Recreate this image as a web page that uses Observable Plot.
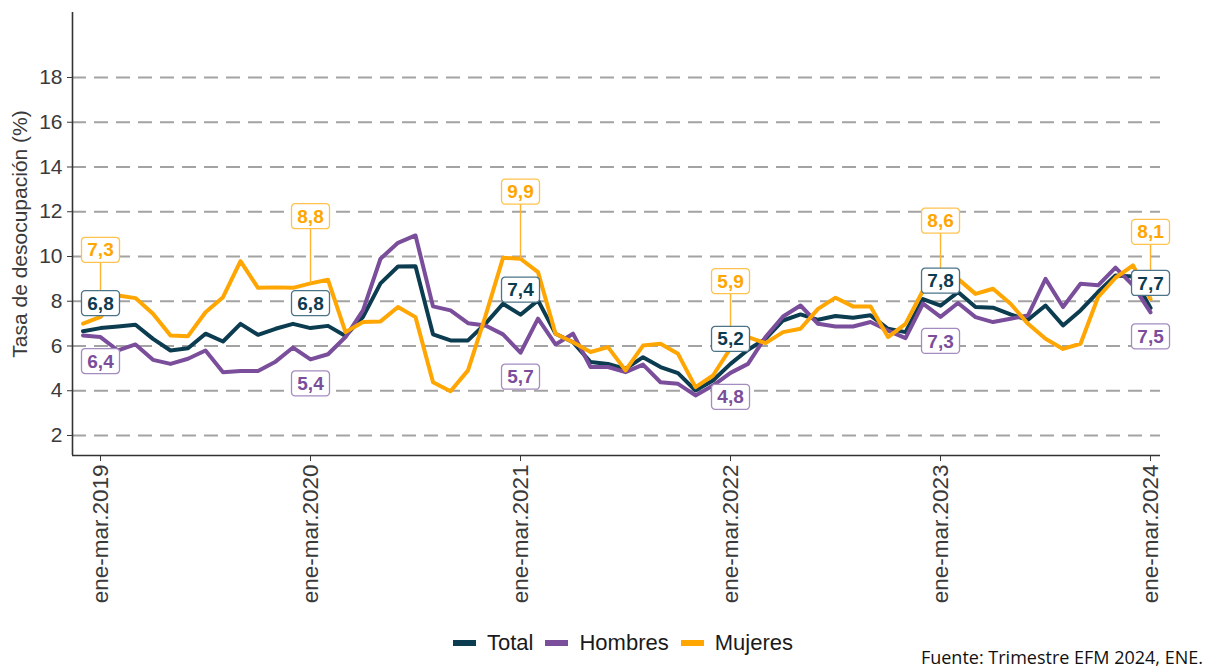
<!DOCTYPE html>
<html><head><meta charset="utf-8">
<script src="https://cdn.jsdelivr.net/npm/d3@7"></script>
<script src="https://cdn.jsdelivr.net/npm/@observablehq/plot@0.6"></script>
<style>
body{margin:0;background:#fff;font-family:"Liberation Sans",Arial,sans-serif;}
#wrap{position:relative;width:1206px;height:669px;overflow:hidden;}
#legend{position:absolute;top:630px;left:0;width:1206px;display:flex;justify-content:center;align-items:center;font-size:22px;color:#1a1a1a;padding-left:40px;box-sizing:border-box;}
#legend .it{display:flex;align-items:center;margin:0 6px;}
#legend .sw{display:inline-block;width:23px;height:6px;margin-right:11px;}
#caption{position:absolute;right:3px;top:645px;font-family:"Open Sans",sans-serif;font-size:18px;color:#111;}
</style></head>
<body><div id="wrap"><div id="chart"></div><div id="legend"></div><div id="caption">Fuente: Trimestre EFM 2024, ENE.</div></div>
<script>
// Series: index -1 = dic-feb 2019, 0 = ene-mar 2019 ... 60 = ene-mar 2024
const seriesNames = ["Total", "Hombres", "Mujeres"];
const seriesColors = ["#0c3c50", "#7a4e9b", "#ffa602"];
const boxStrokes = ["#4b7489", "#a58cc0", "#ffc24f"];

const total = [6.66, 6.8, 6.87, 6.95, 6.32, 5.80, 5.90, 6.55, 6.20, 6.99, 6.50, 6.77, 6.99, 6.8, 6.90, 6.45,
  7.3, 8.8, 9.55, 9.56, 6.52, 6.25, 6.25, 7.0, 7.89, 7.4, 8.04, 6.55, 6.17, 5.28, 5.20,
  4.98, 5.50, 5.06, 4.79, 4.01, 4.46, 5.2, 5.83, 6.32, 7.14, 7.41, 7.17, 7.34, 7.26, 7.37,
  6.77, 6.62, 8.1, 7.8, 8.41, 7.74, 7.71, 7.41, 7.17, 7.81, 6.92, 7.59, 8.41, 9.15, 9.11, 7.7];
const hombres = [6.47, 6.4, 5.80, 6.07, 5.38, 5.20, 5.43, 5.80, 4.83, 4.88, 4.88, 5.3, 5.93, 5.4, 5.63, 6.4,
  7.59, 9.90, 10.61, 10.94, 7.77, 7.59, 7.02, 6.92, 6.52, 5.7, 7.22, 6.07, 6.55, 5.06, 5.06,
  4.83, 5.17, 4.38, 4.31, 3.79, 4.23, 4.8, 5.20, 6.40, 7.32, 7.81, 6.99, 6.87, 6.87, 7.07,
  6.69, 6.35, 7.89, 7.3, 7.92, 7.29, 7.07, 7.22, 7.37, 9.0, 7.74, 8.78, 8.71, 9.50, 8.71, 7.5];
const mujeres = [7.0, 7.3, 8.26, 8.14, 7.44, 6.47, 6.44, 7.51, 8.18, 9.79, 8.60, 8.62, 8.60, 8.8, 8.96, 6.62,
  7.07, 7.10, 7.74, 7.29, 4.38, 3.98, 4.91, 7.35, 9.94, 9.9, 9.30, 6.55, 6.17, 5.73, 5.95,
  4.91, 6.02, 6.10, 5.65, 4.16, 4.68, 5.9, 6.40, 6.13, 6.62, 6.77, 7.66, 8.16, 7.77, 7.77,
  6.40, 6.99, 8.48, 8.6, 9.0, 8.33, 8.56, 7.89, 6.99, 6.32, 5.87, 6.10, 8.18, 9.05, 9.60, 8.1];

const tickIndex = [0, 12, 24, 36, 48, 60];
const tickLabels = ["ene-mar.2019", "ene-mar.2020", "ene-mar.2021", "ene-mar.2022", "ene-mar.2023", "ene-mar.2024"];
const yTicks = [2, 4, 6, 8, 10, 12, 14, 16, 18];

const labelIndex = [0, 12, 24, 36, 48, 60];
const totalLabels = [6.8, 6.8, 7.4, 5.2, 7.8, 7.7];
const hombresLabels = [6.4, 5.4, 5.7, 4.8, 7.3, 7.5];
const mujeresLabels = [7.3, 8.8, 9.9, 5.9, 8.6, 8.1];

// ---- build tables ----
const allSeries = [total, hombres, mujeres];
const rows = [];
allSeries.forEach((arr, s) => arr.forEach((v, k) => rows.push({i: k - 1, v, s: seriesNames[s]})));
const mk = (vals) => vals.map((v, k) => ({i: labelIndex[k], v}));
const totLab = mk(totalLabels), homLab = mk(hombresLabels), mujLab = mk(mujeresLabels);
const fmt = v => v.toFixed(1).replace(".", ",");

const box = {draw(ctx) {
  const w = 19, h = 12.5, r = 3.5;
  ctx.moveTo(-w + r, -h); ctx.lineTo(w - r, -h); ctx.arcTo(w, -h, w, -h + r, r);
  ctx.lineTo(w, h - r); ctx.arcTo(w, h, w - r, h, r);
  ctx.lineTo(-w + r, h); ctx.arcTo(-w, h, -w, h - r, r);
  ctx.lineTo(-w, -h + r); ctx.arcTo(-w, -h, -w + r, -h, r); ctx.closePath();
}};

const yMin = 1.106, yMax = 20.905, xMin = -1.6, xMax = 60.57;
const MUJ_NUDGE = 3;

function labelMarks(data, s, yfn, dy) {
  return [
    Plot.dot(data, {x: "i", y: yfn, symbol: box, r: 1, fill: "white", stroke: boxStrokes[s], strokeWidth: 1.3, dy}),
    Plot.text(data, {x: "i", y: yfn, text: d => fmt(d.v), fill: seriesColors[s], fontWeight: "bold", fontSize: 19, dy: dy + 0.5})
  ];
}

const chart = Plot.plot({
  width: 1206, height: 625,
  marginTop: 12, marginLeft: 72, marginRight: 46, marginBottom: 170,
  style: {fontFamily: "Liberation Sans, Arial, sans-serif", fontSize: "21px", background: "white", overflow: "visible"},
  x: {domain: [xMin, xMax]},
  y: {domain: [yMin, yMax]},
  color: {domain: seriesNames, range: seriesColors},
  marks: [
    Plot.ruleY(yTicks, {stroke: "#a3a3a3", strokeWidth: 1.8, strokeDasharray: "14,8"}),
    Plot.axisX({ticks: tickIndex, tickFormat: i => tickLabels[tickIndex.indexOf(i)], tickRotate: -90, tickSize: 6, tickPadding: 3, fontSize: 22.5, label: null, color: "#3a3a3a"}),
    Plot.axisY({ticks: yTicks, tickSize: 5, tickPadding: 5, fontSize: 21, label: "Tasa de desocupación (%)", labelAnchor: "center", labelArrow: "none", labelOffset: 60, color: "#3a3a3a"}),
    Plot.ruleY([yMin], {stroke: "#333", strokeWidth: 1.6}),
    Plot.ruleX([xMin], {stroke: "#333", strokeWidth: 1.6}),
    Plot.line(rows, {x: "i", y: "v", z: "s", stroke: "s", strokeWidth: 4, strokeLinejoin: "round"}),
    Plot.link(mujLab, {x1: "i", x2: "i", y1: "v", y2: d => d.v + MUJ_NUDGE, stroke: "#ffb330", strokeWidth: 1.4}),
    ...labelMarks(mujLab, 2, d => d.v + MUJ_NUDGE, 0),
    ...labelMarks(homLab, 1, "v", 24),
    ...labelMarks(totLab, 0, "v", -25)
  ]
});
document.getElementById("chart").appendChild(chart);

const legend = document.getElementById("legend");
seriesNames.forEach((n, s) => {
  const it = document.createElement("span"); it.className = "it";
  const sw = document.createElement("span"); sw.className = "sw"; sw.style.background = seriesColors[s];
  it.appendChild(sw); it.appendChild(document.createTextNode(n));
  legend.appendChild(it);
});
</script></body></html>
